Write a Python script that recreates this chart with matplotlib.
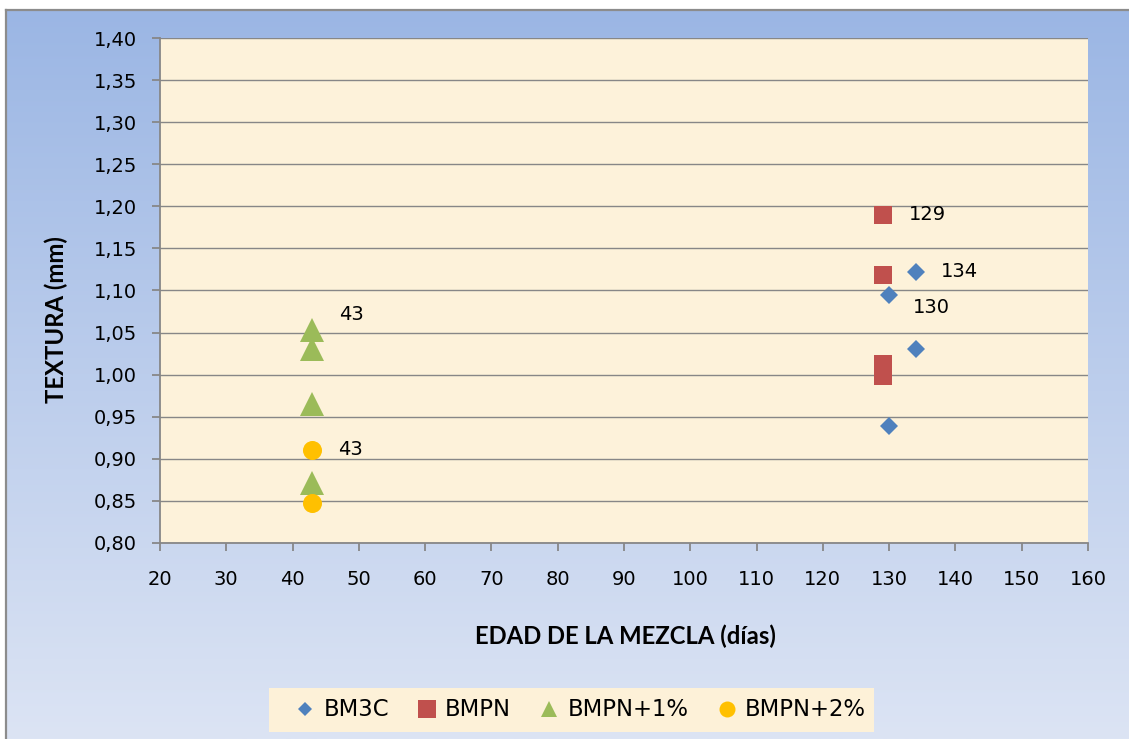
import numpy as np
import matplotlib
matplotlib.use("Agg")
import matplotlib.pyplot as plt
from matplotlib.lines import Line2D
from matplotlib.patches import Rectangle

# =========================
# Data
# =========================
bm3c_x = [130, 134, 134, 130]
bm3c_y = [1.095, 1.122, 1.031, 0.939]

bmpn_x = [129, 129, 129, 129]
bmpn_y = [1.190, 1.118, 1.013, 0.998]

bmpn1_x = [43, 43, 43, 43]
bmpn1_y = [1.053, 1.030, 0.965, 0.871]

bmpn2_x = [43, 43]
bmpn2_y = [0.911, 0.848]

series_names = ["BM3C", "BMPN", "BMPN+1%", "BMPN+2%"]
x_ticks = list(range(20, 161, 10))
y_ticks = [round(0.80 + 0.05 * i, 2) for i in range(13)]

# =========================
# Styles
# =========================
W, H = 1129, 739
BLUE = "#4F81BD"
RED = "#C0504D"
GREEN = "#9BBB59"
YELLOW = "#FFC000"
CREAM = "#FDF2DA"
GRID = "#878787"

styles = {
    "BM3C": dict(marker="D", color=BLUE, ms=9.5),
    "BMPN": dict(marker="s", color=RED, ms=13.0),
    "BMPN+1%": dict(marker="^", color=GREEN, ms=17.0),
    "BMPN+2%": dict(marker="o", color=YELLOW, ms=13.7),
}
legend_ms = {"BM3C": 7.0, "BMPN": 13.5, "BMPN+1%": 12.0, "BMPN+2%": 11.5}

data = {
    "BM3C": (bm3c_x, bm3c_y),
    "BMPN": (bmpn_x, bmpn_y),
    "BMPN+1%": (bmpn1_x, bmpn1_y),
    "BMPN+2%": (bmpn2_x, bmpn2_y),
}

# data labels: (series, point index, offset px right, offset px up)
point_labels = [
    ("BMPN", 0, 26, 0),
    ("BM3C", 1, 25, 0),
    ("BM3C", 0, 24, -13),
    ("BMPN+1%", 0, 27, 16),
    ("BMPN+2%", 0, 26, 0),
]

fig = plt.figure(figsize=(W / 100, H / 100), dpi=100)
fig.patch.set_facecolor("white")


def px(x, y):
    # pixel (from top-left) -> figure fraction
    return x / W, 1 - y / H


# gradient background
bg = fig.add_axes([6 / W, 0, 1 - 6 / W, 1 - 10 / H], zorder=-5)
top = np.array([155, 182, 228]) / 255
bot = np.array([220, 228, 244]) / 255
t = np.linspace(0, 1, 256)[:, None]
grad = top * (1 - t) + bot * t
bg.imshow(grad[:, None, :], aspect="auto", extent=[0, 1, 0, 1])
bg.set_xlim(0, 1)
bg.set_ylim(0, 1)
bg.axis("off")
fig.add_artist(Line2D([6 / W, 1], [1 - 10 / H] * 2, color="#8C8C8C", lw=1.6))
fig.add_artist(Line2D([6 / W] * 2, [0, 1 - 10 / H], color="#8C8C8C", lw=1.6))

# main axes
l, b = px(160, 543)
r, tp = px(1088, 38)
ax = fig.add_axes([l, b, r - l, tp - b])
ax.set_facecolor(CREAM)

for name in series_names:
    xs, ys = data[name]
    st = styles[name]
    ax.plot(xs, ys, linestyle="none", marker=st["marker"], ms=st["ms"],
            color=st["color"], markeredgewidth=0, zorder=3)

for name, idx, dx, dy in point_labels:
    xs, ys = data[name]
    ax.annotate(str(xs[idx]), (xs[idx], ys[idx]),
                xytext=(dx * 0.72, dy * 0.72), textcoords="offset points",
                ha="left", va="center", fontsize=14, family="DejaVu Sans",
                zorder=4)

ax.set_xlim(20, 160)
ax.set_ylim(0.80, 1.40)
ax.set_xticks(x_ticks)
ax.set_yticks(y_ticks)
ax.set_xticklabels([str(v) for v in x_ticks])
ax.set_yticklabels([f"{v:.2f}".replace(".", ",") for v in y_ticks])
ax.grid(axis="y", color=GRID, lw=1.0)
ax.set_axisbelow(True)
for s in ["top", "right"]:
    ax.spines[s].set_visible(False)
for s in ["left", "bottom"]:
    ax.spines[s].set_color(GRID)
    ax.spines[s].set_linewidth(1.3)
ax.tick_params(axis="both", direction="out", color=GRID, width=1.3,
               length=5.5, labelsize=14, labelcolor="black")
ax.tick_params(axis="x", pad=14)
ax.tick_params(axis="y", pad=11)

fig.text(*px(625, 636), "EDAD DE LA MEZCLA (días)", ha="center", va="center",
         fontsize=17.2, fontweight="bold", family="Lato")
fig.text(*px(56, 320), "TEXTURA (mm)", ha="center", va="center",
         rotation=90, fontsize=17.2, fontweight="bold", family="Lato")

# legend box
lx0, ly0 = px(269, 732)
lx1, ly1 = px(874, 688)
fig.add_artist(Rectangle((lx0, ly0), lx1 - lx0, ly1 - ly0,
                         transform=fig.transFigure, facecolor="#FDF1D8",
                         edgecolor="none", zorder=1))
handles = [Line2D([], [], linestyle="none", marker=styles[n]["marker"],
                  color=styles[n]["color"], ms=legend_ms[n],
                  markeredgewidth=0) for n in series_names]
fig.legend(handles, series_names, loc="center left",
           bbox_to_anchor=px(296, 710), frameon=False, ncol=4,
           fontsize=16.4, handlelength=0.8, handletextpad=0.4,
           columnspacing=1.27, borderpad=0, borderaxespad=0)

fig.savefig("out.png", dpi=100)
